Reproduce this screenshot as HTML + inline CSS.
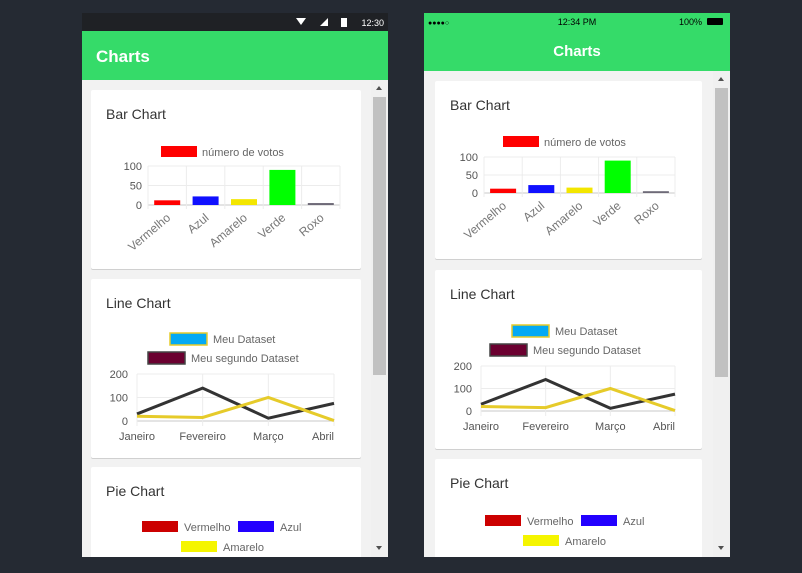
<!DOCTYPE html>
<html><head><meta charset="utf-8"><style>
html,body{margin:0;padding:0;background:#252a33;width:802px;height:573px;overflow:hidden}
svg{display:block;font-family:"Liberation Sans",sans-serif}
</style></head><body>
<svg id="s" width="802" height="573" viewBox="0 0 802 573"></svg>
<script>
const barCategories=["Vermelho","Azul","Amarelo","Verde","Roxo"];
const barValues=[12,22,15,90,5];
const barColors=["#ff0000","#1010ff","#f3e600","#00ff00","#6e6a78"];
const barTicks=[0,50,100];
const lineLabels=["Janeiro","Fevereiro","Março","Abril"];
const lineSeries1=[20,15,100,2];
const lineSeries2=[30,140,12,75];
const lineTicks=[0,100,200];
const pieLabels=["Vermelho","Azul","Amarelo"];

const S=document.getElementById('s');
const NS='http://www.w3.org/2000/svg';
function el(tag,attrs,parent,name,inter){const e=document.createElementNS(NS,tag);for(const k in attrs)e.setAttribute(k,attrs[k]);


(parent||S).appendChild(e);return e;}
function txt(x,y,s,attrs,parent,name){const t=el('text',Object.assign({x:x,y:y},attrs),parent,name);t.textContent=s;return t;}

function phone(g){
  const G=el('g',{},S,g.id);
  el('rect',{x:g.x,y:13,width:306,height:544,fill:'#f2f2f2'},G,'screen');
  if(g.ios){
    el('rect',{x:g.x,y:13,width:306,height:58,fill:'#35db69'},G,'app-header');
    txt(g.x+4,25,'●●●●○',{'font-size':7,fill:'#000'},G,'signal-icon');
    txt(g.x+153,25,'12:34 PM',{'font-size':9,fill:'#000','text-anchor':'middle'},G,'status-time');
    txt(g.x+278,25,'100%',{'font-size':9,fill:'#000','text-anchor':'end'},G,'battery-text');
    el('rect',{x:g.x+283,y:18,width:16,height:7,rx:1,fill:'#000'},G,'battery-icon');
    txt(g.x+153,56,'Charts',{'font-size':15,'font-weight':'bold',fill:'#fff','text-anchor':'middle'},G,'app-title');
  }else{
    el('rect',{x:g.x,y:13,width:306,height:18,fill:'#1f2125'},G,'status-bar');
    txt(g.x+302,26,'12:30',{'font-size':9,fill:'#fff','text-anchor':'end'},G,'status-time');
    el('path',{d:`M${g.x+214} 18 l10 0 l-5 7z`,fill:'#fff'},G,'wifi-icon');
    el('path',{d:`M${g.x+238} 26 l8 -8 l0 8z`,fill:'#fff'},G,'signal-icon');
    el('rect',{x:g.x+259,y:18,width:6,height:9,fill:'#fff'},G,'battery-icon');
    el('rect',{x:g.x,y:31,width:306,height:49,fill:'#35db69'},G,'app-header');
    txt(g.x+14,62,'Charts',{'font-size':17,'font-weight':'bold',fill:'#fff'},G,'app-title');
  }
  g.cards.forEach((c,i)=>{
    el('rect',{x:c[0],y:c[1]+1,width:c[2],height:c[3],fill:'#d0d0d0',rx:2},G,'card-shadow');
    el('rect',{x:c[0],y:c[1],width:c[2],height:c[3],fill:'#fff',rx:2},G,['bar-card','line-card','pie-card'][i]);
    txt(c[0]+15,c[1]+29,['Bar Chart','Line Chart','Pie Chart'][i],{'font-size':14,fill:'#333'},G,'card-title');
  });
  const b=g.bar;
  const by=v=>b.y0-(v/100)*(b.y0-b.y100);
  const bw=(b.x1-b.x0)/barCategories.length;
  el('rect',{x:b.lx,y:b.ly,width:36,height:11,fill:'#ff0000'},G,'bar-legend-swatch');
  txt(b.lx+41,b.ly+10,'número de votos',{'font-size':11,fill:'#666'},G,'bar-legend-label');
  barTicks.forEach(t=>{el('line',{x1:b.x0,x2:b.x1,y1:by(t),y2:by(t),stroke:t?'#ececec':'#c8c8c8'},G,'bar-gridline');
    txt(b.x0-6,by(t)+4,String(t),{'font-size':11,fill:'#555','text-anchor':'end'},G,'bar-y-tick');});
  for(let i=0;i<=barCategories.length;i++)el('line',{x1:b.x0+i*bw,x2:b.x0+i*bw,y1:b.y100,y2:b.y0+4,stroke:'#ececec'},G,'bar-v-gridline');
  barCategories.forEach((c,i)=>{
    const cx=b.x0+i*bw+bw/2;
    el('rect',{x:cx-13,y:by(barValues[i]),width:26,height:b.y0-by(barValues[i]),fill:barColors[i]},G,'bar-'+c.toLowerCase());
    txt(cx+4,b.y0+14,c,{'font-size':12,fill:'#777','text-anchor':'end',transform:`rotate(-40 ${cx+4} ${b.y0+14})`},G,'bar-x-label');
  });
  const l=g.line;
  const ly=v=>l.y0-(v/200)*(l.y0-l.y200);
  const lx=i=>l.x0+i*(l.x1-l.x0)/(lineLabels.length-1);
  el('rect',{x:l.l1[0],y:l.l1[1],width:37,height:12,fill:'#03a9f4',stroke:'#e6cb2a','stroke-width':1.5},G,'line-legend-swatch-1');
  txt(l.l1[0]+43,l.l1[1]+10,'Meu Dataset',{'font-size':11,fill:'#666'},G,'line-legend-label-1');
  el('rect',{x:l.l2[0],y:l.l2[1],width:37,height:12,fill:'#6b0030',stroke:'#444','stroke-width':1.5},G,'line-legend-swatch-2');
  txt(l.l2[0]+43,l.l2[1]+10,'Meu segundo Dataset',{'font-size':11,fill:'#666'},G,'line-legend-label-2');
  lineTicks.forEach(t=>{el('line',{x1:l.x0,x2:l.x1,y1:ly(t),y2:ly(t),stroke:t?'#ececec':'#c8c8c8'},G,'line-gridline');
    txt(l.x0-9,ly(t)+4,String(t),{'font-size':11,fill:'#555','text-anchor':'end'},G,'line-y-tick');});
  lineLabels.forEach((s,i)=>{el('line',{x1:lx(i),x2:lx(i),y1:l.y200,y2:l.y0+5,stroke:'#ececec'},G,'line-v-gridline');
    txt(lx(i),l.y0+19,s,{'font-size':11,fill:'#555','text-anchor':i==3?'end':'middle'},G,'line-x-label');});
  el('polyline',{points:lineSeries2.map((v,i)=>lx(i)+','+ly(v)).join(' '),fill:'none',stroke:'#333',"stroke-width":3},G,'series-meu-segundo-dataset');
  el('polyline',{points:lineSeries1.map((v,i)=>lx(i)+','+ly(v)).join(' '),fill:'none',stroke:'#e6cb2a',"stroke-width":3},G,'series-meu-dataset');
  const p=g.pie, pc=['#cc0000','#2200ff','#f5f500'];
  pieLabels.forEach((s,i)=>{
    el('rect',{x:p[i][0],y:p[i][1],width:36,height:11,fill:pc[i]},G,'pie-legend-swatch');
    txt(p[i][0]+42,p[i][1]+10,s,{'font-size':11,fill:'#666'},G,'pie-legend-label');
  });
  el('rect',{x:g.x+289,y:g.top,width:17,height:557-g.top,fill:'#f0f0f0'},G,'scrollbar-track',true);
  el('rect',{x:g.x+291,y:g.thumb[0],width:13,height:g.thumb[1]-g.thumb[0],fill:'#c1c1c1'},G,'scrollbar-thumb',true);
  el('path',{d:`M${g.x+294} ${g.top+10} l3 -4 l3 4z`,fill:'#505050'},G,'scroll-up-arrow',true);
  el('path',{d:`M${g.x+294} 546 l3 4 l3 -4z`,fill:'#505050'},G,'scroll-down-arrow',true);
}
phone({id:'android-phone',x:82,ios:false,top:80,thumb:[97,375],
  cards:[[91,90,270,179],[91,279,270,179],[91,467,270,100]],
  bar:{x0:148,x1:340,y0:205,y100:166,lx:161,ly:146},
  line:{x0:137,x1:334,y0:421,y200:374,l1:[170,333],l2:[148,352]},
  pie:[[142,521],[238,521],[181,541]]});
phone({id:'ios-phone',x:424,ios:true,top:71,thumb:[88,377],
  cards:[[435,81,267,178],[435,270,267,179],[435,459,267,110]],
  bar:{x0:484,x1:675,y0:193,y100:157,lx:503,ly:136},
  line:{x0:481,x1:675,y0:411,y200:366,l1:[512,325],l2:[490,344]},
  pie:[[485,515],[581,515],[523,535]]});
el('rect',{x:0,y:557,width:802,height:16,fill:'#252a33'},S,'bottom-backdrop');
</script>
</body></html>
